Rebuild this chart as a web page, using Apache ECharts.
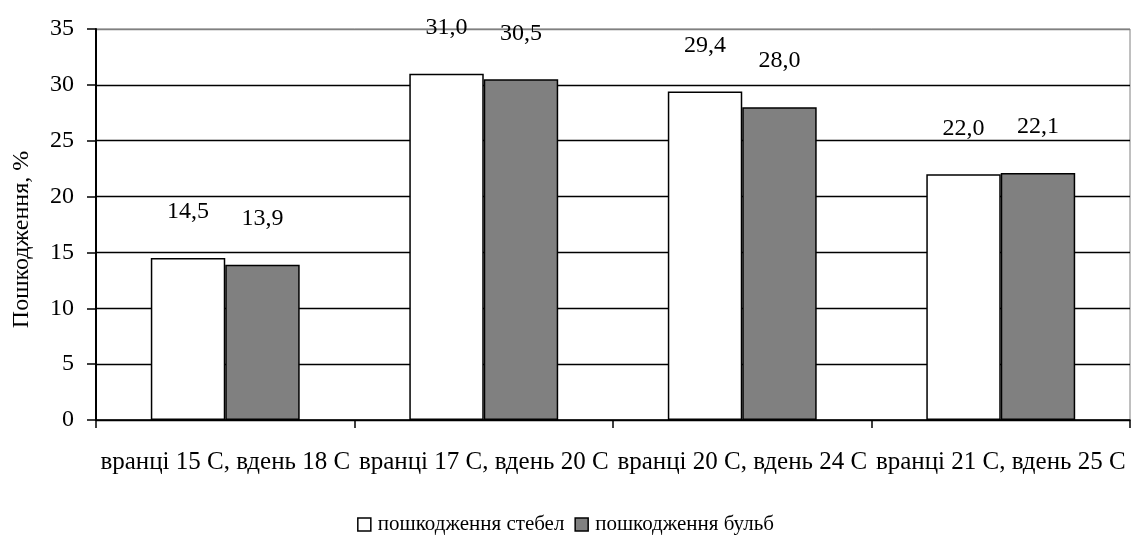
<!DOCTYPE html>
<html>
<head>
<meta charset="utf-8">
<script src="https://cdn.jsdelivr.net/npm/echarts@6/dist/echarts.min.js"></script>
<style>
html,body{margin:0;padding:0;background:#fff;}
#chart{width:1131px;height:535px;}
</style>
</head>
<body>
<div id="chart"></div>
<script>
const categories = ['вранці 15 С, вдень 18 С', 'вранці 17 С, вдень 20 С', 'вранці 20 С, вдень 24 С', 'вранці 21 С, вдень 25 С'];
const seriesNames = ['пошкодження стебел', 'пошкодження бульб'];
const stemValues = [14.5, 31.0, 29.4, 22.0];
const tuberValues = [13.9, 30.5, 28.0, 22.1];
const yAxisName = 'Пошкодження, %';

const FONT = "'Liberation Serif', 'Times New Roman', serif";
const chart = echarts.init(document.getElementById('chart'), null, {renderer: 'canvas'});

function barLabel() {
  return {
    show: true,
    position: 'top',
    distance: 34,
    color: '#000',
    fontFamily: FONT,
    fontSize: 24,
    formatter: p => p.value.toFixed(1).replace('.', ',')
  };
}

const gridColors = ['#000','#000','#000','#000','#000','#000','#000','#808080'];

chart.setOption({
  animation: false,
  backgroundColor: '#fff',
  grid: {left: 96, right: 1, top: 29, bottom: 115, show: true, borderColor: '#808080', borderWidth: 1, backgroundColor: 'transparent'},
  legend: {
    top: 509,
    left: 'center',
    itemWidth: 13,
    itemHeight: 13,
    itemGap: 10,
    icon: 'rect',
    textStyle: {fontFamily: FONT, fontSize: 21, color: '#000', padding: [0, 0, 0, 2]},
    data: seriesNames.map(n => ({name: n, itemStyle: {borderColor: '#000', borderWidth: 1.5}}))
  },
  xAxis: {
    type: 'category',
    data: categories,
    axisLine: {lineStyle: {color: '#000', width: 1.5}},
    axisTick: {show: true, length: 8, lineStyle: {color: '#000', width: 1.5}},
    axisLabel: {fontFamily: FONT, fontSize: 25, color: '#000', margin: 30, interval: 0},
    splitLine: {show: false}
  },
  yAxis: {
    type: 'value',
    min: 0, max: 35, interval: 5,
    name: yAxisName,
    nameLocation: 'middle',
    nameGap: 62,
    nameRotate: 90,
    nameTextStyle: {fontFamily: FONT, fontSize: 24, color: '#000', padding: [0, 30, 0, 0]},
    axisLine: {show: true, lineStyle: {color: '#000', width: 2}},
    axisTick: {show: true, length: 9, lineStyle: {color: '#000', width: 1.5}},
    axisLabel: {fontFamily: FONT, fontSize: 24, color: '#000', margin: 22},
    splitLine: {show: true, lineStyle: {color: gridColors, width: 1.3}}
  },
  series: [
    {
      name: seriesNames[0], type: 'bar', data: stemValues,
      barGap: '0%', barCategoryGap: '42.4%',
      itemStyle: {color: '#ffffff', borderColor: '#000', borderWidth: 1.5},
      label: barLabel()
    },
    {
      name: seriesNames[1], type: 'bar', data: tuberValues,
      barGap: '0%', barCategoryGap: '42.4%',
      itemStyle: {color: '#808080', borderColor: '#000', borderWidth: 1.5},
      label: barLabel()
    }
  ]
});
</script>
</body>
</html>
